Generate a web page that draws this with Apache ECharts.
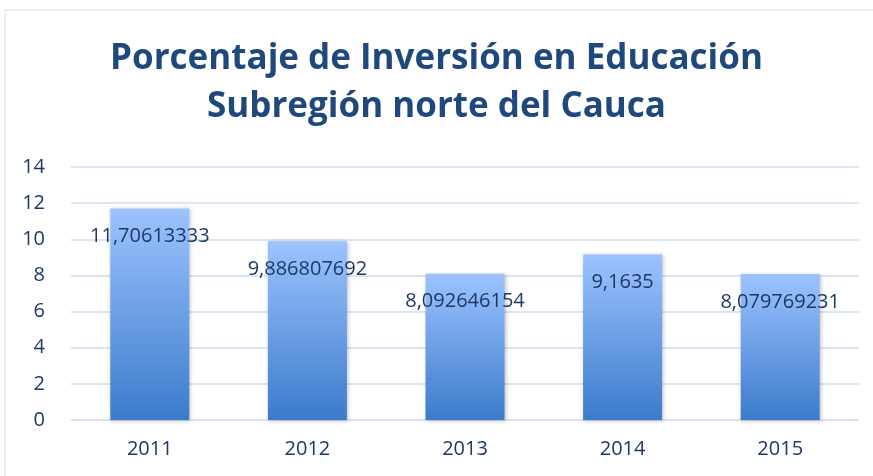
<!DOCTYPE html>
<html>
<head>
<meta charset="utf-8">
<script src="https://cdn.jsdelivr.net/npm/echarts@6/dist/echarts.min.js"></script>
<style>
  html, body { margin: 0; padding: 0; background: #fff; }
  #chart { width: 873px; height: 476px; }
</style>
</head>
<body>
<div id="chart"></div>
<script>
   // data
   let years = ["2011", "2012", "2013", "2014", "2015"];
   let values = [11.70613333, 9.886807692, 8.092646154, 9.1635, 8.079769231];
   let labels = ["11,70613333", "9,886807692", "8,092646154", "9,1635", "8,079769231"];

   let myChart = echarts.init(document.getElementById("chart"));
   let font = "Open Sans";
   let option = {
      backgroundColor: "#fff",
      graphic: [{
         type: "rect",
         shape: { x: 5, y: 10, width: 900, height: 500 },
         style: { fill: "none", stroke: "#d6e2f3", lineWidth: 1 }
      }],
      title: {
         text: "Porcentaje de Inversión en Educación\nSubregión norte del Cauca",
         left: "center",
         top: 30,
         textStyle: {
            fontFamily: font,
            fontSize: 35,
            fontWeight: "bold",
            color: "#1f497d",
            lineHeight: 48
         }
      },
      grid: { left: 71, right: 14, top: 167, bottom: 56 },
      xAxis: {
         type: "category",
         data: years,
         axisLine: { lineStyle: { color: "#d6e2f3" } },
         axisTick: { show: false },
         axisLabel: { fontFamily: font, fontSize: 20, color: "#1f3864", margin: 19 }
      },
      yAxis: {
         type: "value",
         min: 0,
         max: 14,
         interval: 2,
         axisLine: { show: false },
         axisTick: { show: false },
         splitLine: { lineStyle: { color: "#dbe5f4", width: 2 } },
         axisLabel: { fontFamily: font, fontSize: 20, color: "#1f3864", margin: 26 }
      },
      series: [{
         type: "bar",
         data: values,
         barWidth: 79,
         itemStyle: {
            color: new echarts.graphic.LinearGradient(0, 0, 0, 1, [
               { offset: 0, color: "#9dc3ff" },
               { offset: 1, color: "#3b7bcb" }
            ]),
            shadowColor: "rgba(0,0,0,0.25)",
            shadowBlur: 4,
            shadowOffsetX: 1,
            shadowOffsetY: 1
         },
         label: {
            show: true,
            position: "insideTop",
            distance: 18,
            fontFamily: font,
            fontSize: 20,
            color: "#1f3864",
            formatter: function(p) { return labels[p.dataIndex]; }
         }
      }]
   };
   myChart.setOption(option);
</script>
</body>
</html>
